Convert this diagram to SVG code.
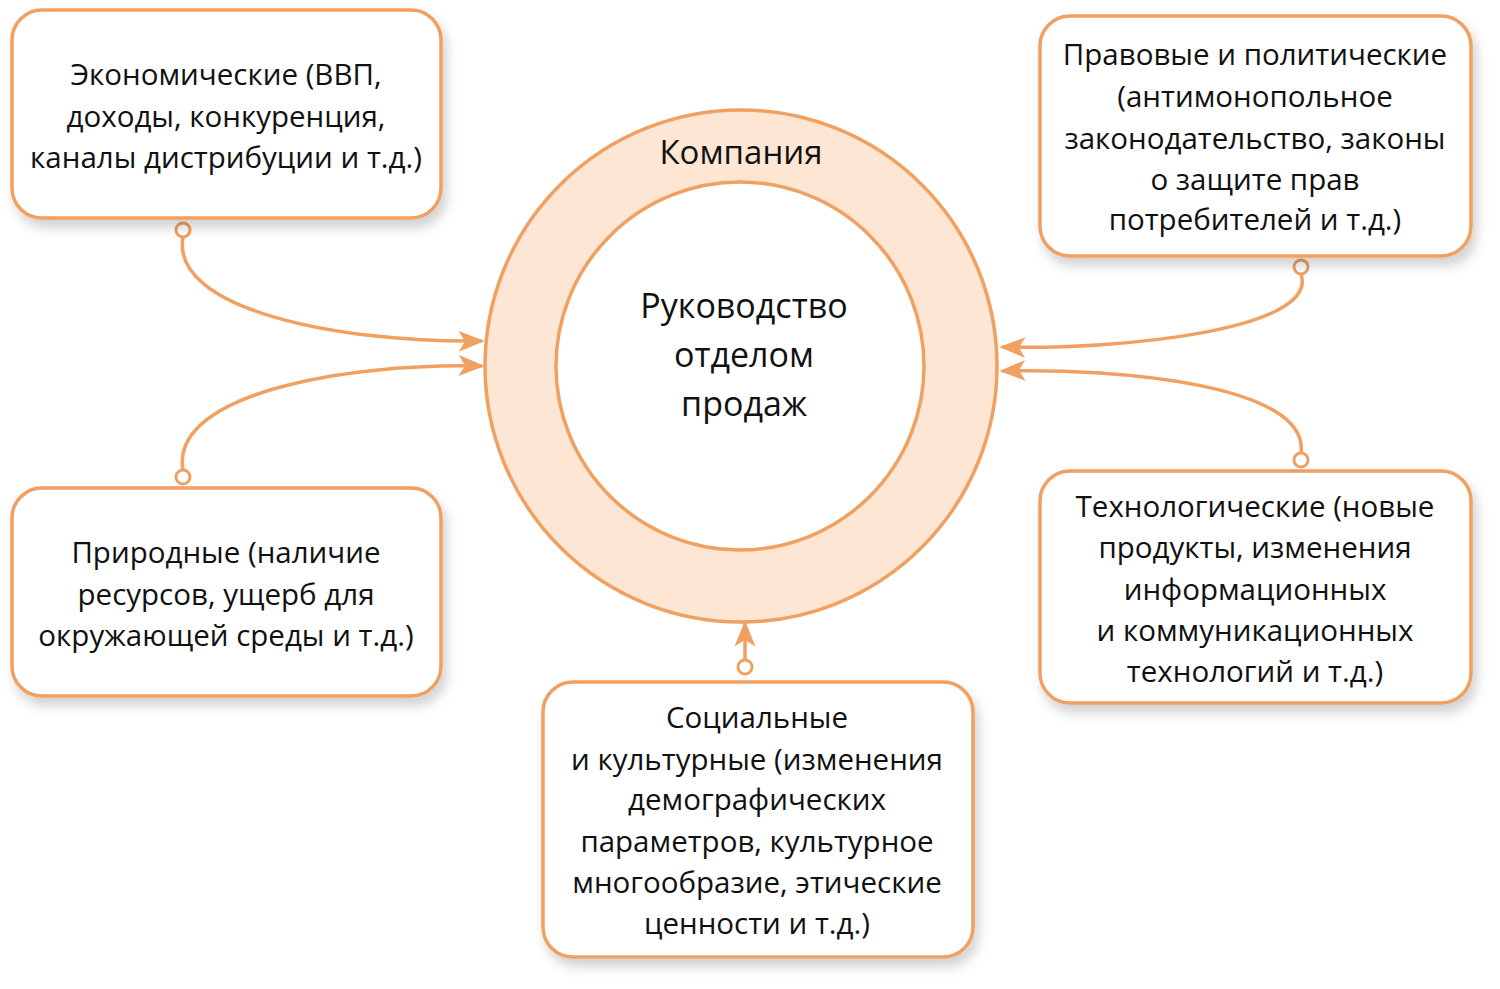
<svg xmlns="http://www.w3.org/2000/svg" width="1500" height="989" viewBox="0 0 1500 989">
<style>
.box{fill:#ffffff;stroke:#F0A060;stroke-width:3.5}
.t{font-family:"Open Sans","Noto Sans",sans-serif;font-size:29.5px;fill:#111111;text-anchor:middle}
.big{font-size:33px}
.mid{font-size:34px}
.con{fill:none;stroke:#F0A060;stroke-width:3.5}
.dot{fill:#ffffff;stroke:#F0A060;stroke-width:3}
</style>
<defs>
<filter id="sh" x="-10%" y="-10%" width="125%" height="135%">
<feDropShadow dx="4" dy="8" stdDeviation="6" flood-color="#000" flood-opacity="0.18"/>
</filter>
<marker id="ah2" viewBox="0 0 10 10" refX="9" refY="5" markerWidth="26" markerHeight="26" markerUnits="userSpaceOnUse" orient="auto">
<path d="M0,1 L10,5 L0,9 L2.5,5 Z" fill="#F0A060"/>
</marker>
</defs>
<rect width="1500" height="989" fill="#ffffff"/>

<g id="company">
<circle cx="741" cy="366" r="256" fill="#FDE6D3" stroke="#F0A060" stroke-width="3.5"/>
<text class="t big" x="741" y="164">Компания</text>
</g>
<g id="sales">
<circle cx="740" cy="366" r="184" fill="#ffffff" stroke="#F0A060" stroke-width="3.5"/>
<text class="t mid" x="744" y="318">Руководство</text>
<text class="t mid" x="744" y="367">отделом</text>
<text class="t mid" x="744" y="416">продаж</text>
</g>

<g id="connectors">
<path class="con" d="M183,237 C170,310 340,343 482,341" marker-end="url(#ah2)"/>
<path class="con" d="M183,470 C170,395 340,363 482,366" marker-end="url(#ah2)"/>
<path class="con" d="M1301,274 C1320,330 1120,350 1002,347" marker-end="url(#ah2)"/>
<path class="con" d="M1301,453 C1310,385 1120,368 1002,371" marker-end="url(#ah2)"/>
<path class="con" d="M745,660 L745,623" marker-end="url(#ah2)"/>
<circle class="dot" cx="183" cy="230" r="7"/>
<circle class="dot" cx="183" cy="477" r="7"/>
<circle class="dot" cx="1301" cy="267" r="7"/>
<circle class="dot" cx="1301" cy="460" r="7"/>
<circle class="dot" cx="745" cy="667" r="7"/>
</g>

<g id="economic">
<rect class="box" x="12" y="10" width="429" height="208" rx="30" filter="url(#sh)"/>
<text class="t" x="226" y="85">Экономические (ВВП,</text>
<text class="t" x="226" y="127">доходы, конкуренция,</text>
<text class="t" x="226" y="168">каналы дистрибуции и т.д.)</text>
</g>

<g id="legal">
<rect class="box" x="1040" y="16" width="431" height="240" rx="30" filter="url(#sh)"/>
<text class="t" x="1255" y="65">Правовые и политические</text>
<text class="t" x="1255" y="107">(антимонопольное</text>
<text class="t" x="1255" y="149">законодательство, законы</text>
<text class="t" x="1255" y="190">о защите прав</text>
<text class="t" x="1255" y="230">потребителей и т.д.)</text>
</g>

<g id="natural">
<rect class="box" x="12" y="488" width="429" height="208" rx="30" filter="url(#sh)"/>
<text class="t" x="226" y="563">Природные (наличие</text>
<text class="t" x="226" y="605">ресурсов, ущерб для</text>
<text class="t" x="226" y="646">окружающей среды и т.д.)</text>
</g>

<g id="tech">
<rect class="box" x="1040" y="471" width="431" height="232" rx="30" filter="url(#sh)"/>
<text class="t" x="1255" y="517">Технологические (новые</text>
<text class="t" x="1255" y="558">продукты, изменения</text>
<text class="t" x="1255" y="600">информационных</text>
<text class="t" x="1255" y="641">и коммуникационных</text>
<text class="t" x="1255" y="682">технологий и т.д.)</text>
</g>

<g id="social">
<rect class="box" x="543" y="682" width="430" height="275" rx="30" filter="url(#sh)"/>
<text class="t" x="757" y="728">Социальные</text>
<text class="t" x="757" y="770">и культурные (изменения</text>
<text class="t" x="757" y="810">демографических</text>
<text class="t" x="757" y="852">параметров, культурное</text>
<text class="t" x="757" y="893">многообразие, этические</text>
<text class="t" x="757" y="934">ценности и т.д.)</text>
</g>
</svg>
